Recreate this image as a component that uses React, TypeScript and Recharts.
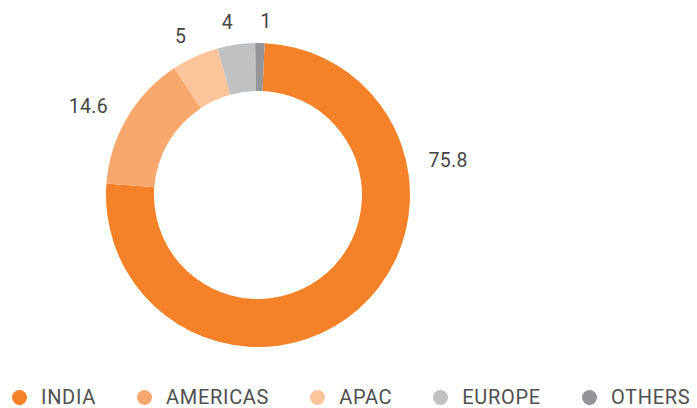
import { PieChart, Pie, Cell, Legend } from "recharts";

const regions = ["INDIA", "AMERICAS", "APAC", "EUROPE", "OTHERS"];
const shares = [75.8, 14.6, 5, 4, 1];
const colors = ["#f58229", "#f8a86c", "#fbc49b", "#c0c1c3", "#939598"];

const data = regions.map((name, i) => ({ name, value: shares[i] }));

const RAD = Math.PI / 180;

const renderLabel = (props: any) => {
  const { cx, cy, midAngle, outerRadius, startAngle, endAngle, percent, value } = props;
  // the big slice gets its label near its start, not at its middle
  const angle = percent > 0.5 ? startAngle - (startAngle - endAngle) * 0.28 : midAngle;
  const r = outerRadius + 22;
  const x = cx + r * Math.cos(-angle * RAD);
  const y = cy + r * Math.sin(-angle * RAD);
  return (
    <text
      x={x}
      y={y}
      fill="#454545"
      fontSize={19.5}
      fontFamily="Roboto, sans-serif"
      letterSpacing={0.3}
      textAnchor={x > cx ? "start" : "end"}
      dominantBaseline="central"
    >
      {value}
    </text>
  );
};

const renderLegend = () => (
  <div
    style={{
      display: "flex",
      alignItems: "center",
      height: 22,
      fontFamily: "Roboto, sans-serif",
      fontSize: 20,
      letterSpacing: 0.7,
      color: "#505050",
    }}
  >
    {regions.map((name, i) => (
      <div
        key={name}
        style={{ display: "flex", alignItems: "center", marginRight: i < regions.length - 1 ? 41 : 0 }}
      >
        <span
          style={{
            width: 15,
            height: 15,
            borderRadius: 8,
            background: colors[i],
            marginRight: 14,
            display: "inline-block",
          }}
        />
        <span>{name}</span>
      </div>
    ))}
  </div>
);

export default function App() {
  return (
    <div style={{ position: "absolute", left: 0, top: 0, width: 697, height: 408, background: "#fff" }}>
      <PieChart width={697} height={408} margin={{ top: 0, right: 0, bottom: 0, left: 0 }}>
        <Pie
          data={data}
          dataKey="value"
          nameKey="name"
          cx={258}
          cy={195}
          innerRadius={104}
          outerRadius={152}
          startAngle={87.5}
          endAngle={-272.5}
          stroke="none"
          label={renderLabel}
          labelLine={false}
          isAnimationActive={false}
        >
          {data.map((d, i) => (
            <Cell key={d.name} fill={colors[i]} />
          ))}
        </Pie>
        <Legend
          content={renderLegend}
          verticalAlign="bottom"
          wrapperStyle={{ left: 12, bottom: 0, width: 690 }}
        />
      </PieChart>
    </div>
  );
}
